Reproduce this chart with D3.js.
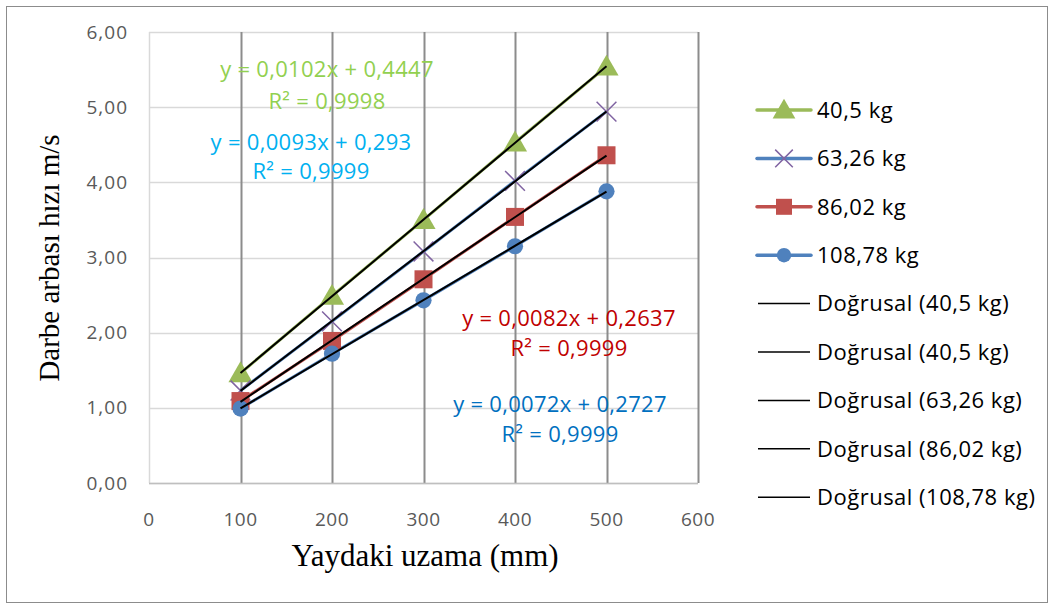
<!DOCTYPE html>
<html><head><meta charset="utf-8">
<script src="https://cdn.jsdelivr.net/npm/d3@7"></script>
<style>body{margin:0;background:#fff}svg{display:block}</style>
</head><body>
<svg id="c" width="1056" height="608"></svg>
<script>
const xValues = [100, 200, 300, 400, 500];
const seriesNames = ["40,5 kg", "63,26 kg", "86,02 kg", "108,78 kg"];
const s40_5 = [1.46, 2.49, 3.50, 4.53, 5.54];
const s63_26 = [1.23, 2.15, 3.08, 4.02, 4.94];
const s86_02 = [1.09, 1.89, 2.71, 3.54, 4.36];
const s108_78 = [0.99, 1.72, 2.43, 3.15, 3.88];
const xTicks = [0, 100, 200, 300, 400, 500, 600];
const yTicks = [0, 1, 2, 3, 4, 5, 6];
const trendLegend = ["Doğrusal (40,5 kg)", "Doğrusal (40,5 kg)", "Doğrusal (63,26 kg)", "Doğrusal (86,02 kg)", "Doğrusal (108,78 kg)"];
const equations = [
  {eq: "y = 0,0102x + 0,4447", r2: "R² = 0,9998"},
  {eq: "y = 0,0093x + 0,293", r2: "R² = 0,9999"},
  {eq: "y = 0,0082x + 0,2637", r2: "R² = 0,9999"},
  {eq: "y = 0,0072x + 0,2727", r2: "R² = 0,9999"}
];

const seriesData = [s40_5, s63_26, s86_02, s108_78];
const lineColors = ["#9bbb59", "#4f81bd", "#c0504d", "#4f81bd"];
const markerColors = ["#9bbb59", "#8064a2", "#c0504d", "#4f81bd"];
const markerTypes = ["triangle", "x", "square", "circle"];
const eqColors = ["#92d050", "#00b0f0", "#c00000", "#0070c0"];
const eqPos = [[327, 69, 101], [311, 142, 171], [569, 318, 348], [560, 404, 434]];

const svg = d3.select("#c");
const FONT = "'Open Sans', 'Noto Sans', sans-serif";

svg.append("rect").attr("x", 6.5).attr("y", 6.5).attr("width", 1041).attr("height", 596)
  .attr("fill", "#fff").attr("stroke", "#8c8c8c").attr("stroke-width", 1);

const x = d3.scaleLinear().domain([0, 600]).range([149, 698]);
const y = d3.scaleLinear().domain([0, 6]).range([483, 32]);

// horizontal gridlines
svg.append("g").selectAll("line").data(yTicks).join("line")
  .attr("x1", x(0)).attr("x2", x(600)).attr("y1", d => Math.round(y(d)) + 0.5).attr("y2", d => Math.round(y(d)) + 0.5)
  .attr("stroke", "#d9d9d9").attr("stroke-width", 1.5);
// vertical gridlines
svg.append("g").selectAll("line").data(xTicks).join("line")
  .attr("x1", d => Math.round(x(d)) + 0.5).attr("x2", d => Math.round(x(d)) + 0.5).attr("y1", y(6)).attr("y2", y(0))
  .attr("stroke", d => d === 0 ? "#d9d9d9" : "#8c8c8c").attr("stroke-width", d => d === 0 ? 1.5 : 2);
// x axis line
svg.append("line").attr("x1", x(0)).attr("x2", x(600)).attr("y1", y(0) + 0.5).attr("y2", y(0) + 0.5)
  .attr("stroke", "#bfbfbf").attr("stroke-width", 1.5);

// tick labels
const fmt = d => d3.format(".2f")(d).replace(".", ",");
svg.append("g").selectAll("text").data(yTicks).join("text")
  .attr("x", 128).attr("y", d => y(d)).attr("dy", "0.35em").attr("text-anchor", "end")
  .attr("font-family", FONT).attr("font-size", 19).attr("letter-spacing", 1).attr("fill", "#595959").text(fmt);
svg.append("g").selectAll("text").data(xTicks).join("text")
  .attr("x", d => x(d)).attr("y", 519).attr("dy", "0.35em").attr("text-anchor", "middle")
  .attr("font-family", FONT).attr("font-size", 19).attr("letter-spacing", 0.5).attr("fill", "#595959").text(d => d);

// axis titles
svg.append("text").attr("transform", "translate(59,258) rotate(-90)").attr("text-anchor", "middle")
  .attr("font-family", "'Liberation Serif', serif").attr("font-size", 29).attr("fill", "#000")
  .text("Darbe arbası hızı m/s");
svg.append("text").attr("x", 425).attr("y", 566).attr("text-anchor", "middle")
  .attr("font-family", "'Liberation Serif', serif").attr("font-size", 31).attr("fill", "#000")
  .text("Yaydaki uzama (mm)");

// series lines
const line = d3.line().x((d, i) => x(xValues[i])).y(d => y(d));
seriesData.forEach((s, k) => {
  svg.append("path").datum(s).attr("d", line).attr("fill", "none")
    .attr("stroke", lineColors[k]).attr("stroke-width", 3).attr("stroke-linejoin", "round");
});

function drawMarker(g, type, cx, cy, color, size) {
  if (type === "triangle") {
    g.append("path").attr("d", d3.symbol().type(d3.symbolTriangle).size(size * 14)())
      .attr("transform", `translate(${cx},${cy + 2})`).attr("fill", color);
  } else if (type === "x") {
    const r = size * 0.55;
    g.append("path").attr("d", `M${cx - r},${cy - r}L${cx + r},${cy + r}M${cx - r},${cy + r}L${cx + r},${cy - r}`)
      .attr("stroke", color).attr("stroke-width", 1.5).attr("fill", "none");
  } else if (type === "square") {
    const r = size * 0.5;
    g.append("rect").attr("x", cx - r).attr("y", cy - r).attr("width", 2 * r).attr("height", 2 * r).attr("fill", color);
  } else {
    g.append("circle").attr("cx", cx).attr("cy", cy).attr("r", size * 0.45).attr("fill", color);
  }
}

// markers
seriesData.forEach((s, k) => {
  const g = svg.append("g");
  s.forEach((v, i) => drawMarker(g, markerTypes[k], x(xValues[i]), y(v), markerColors[k], 18));
});

// trend lines (least squares computed from data)
function fit(vals) {
  const mx = d3.mean(xValues), my = d3.mean(vals);
  let num = 0, den = 0;
  xValues.forEach((xv, i) => { num += (xv - mx) * (vals[i] - my); den += (xv - mx) ** 2; });
  const b = num / den; return {b, a: my - b * mx};
}
seriesData.forEach((s) => {
  const f = fit(s);
  const x0 = d3.min(xValues), x1 = d3.max(xValues);
  svg.append("line").attr("x1", x(x0)).attr("y1", y(f.a + f.b * x0)).attr("x2", x(x1)).attr("y2", y(f.a + f.b * x1))
    .attr("stroke", "#000").attr("stroke-width", 2);
});

// equation labels
equations.forEach((e, k) => {
  const [cx, y1, y2] = eqPos[k];
  svg.append("text").attr("x", cx).attr("y", y1).attr("dy", "0.35em").attr("text-anchor", "middle")
    .attr("font-family", FONT).attr("font-size", 22).attr("letter-spacing", 0.3).attr("fill", eqColors[k]).text(e.eq);
  svg.append("text").attr("x", cx).attr("y", y2).attr("dy", "0.35em").attr("text-anchor", "middle")
    .attr("font-family", FONT).attr("font-size", 22).attr("letter-spacing", 0.3).attr("fill", eqColors[k]).text(e.r2);
});

// legend
const legY0 = 110, legStep = 48.4;
seriesNames.forEach((n, k) => {
  const ly = legY0 + k * legStep;
  svg.append("line").attr("x1", 757).attr("x2", 811).attr("y1", ly).attr("y2", ly)
    .attr("stroke", lineColors[k]).attr("stroke-width", 3.5).attr("stroke-linecap", "round");
  drawMarker(svg.append("g"), markerTypes[k], 784, ly, markerColors[k], 16);
  svg.append("text").attr("x", 817).attr("y", ly).attr("dy", "0.35em")
    .attr("font-family", FONT).attr("font-size", 22).attr("letter-spacing", 0.5).attr("fill", "#000").text(n);
});
trendLegend.forEach((n, k) => {
  const ly = legY0 + (k + 4) * legStep;
  svg.append("line").attr("x1", 758).attr("x2", 810).attr("y1", ly).attr("y2", ly)
    .attr("stroke", "#000").attr("stroke-width", 1.5);
  svg.append("text").attr("x", 817).attr("y", ly).attr("dy", "0.35em")
    .attr("font-family", FONT).attr("font-size", 22).attr("letter-spacing", 0.5).attr("fill", "#000").text(n);
});
</script>
</body></html>
